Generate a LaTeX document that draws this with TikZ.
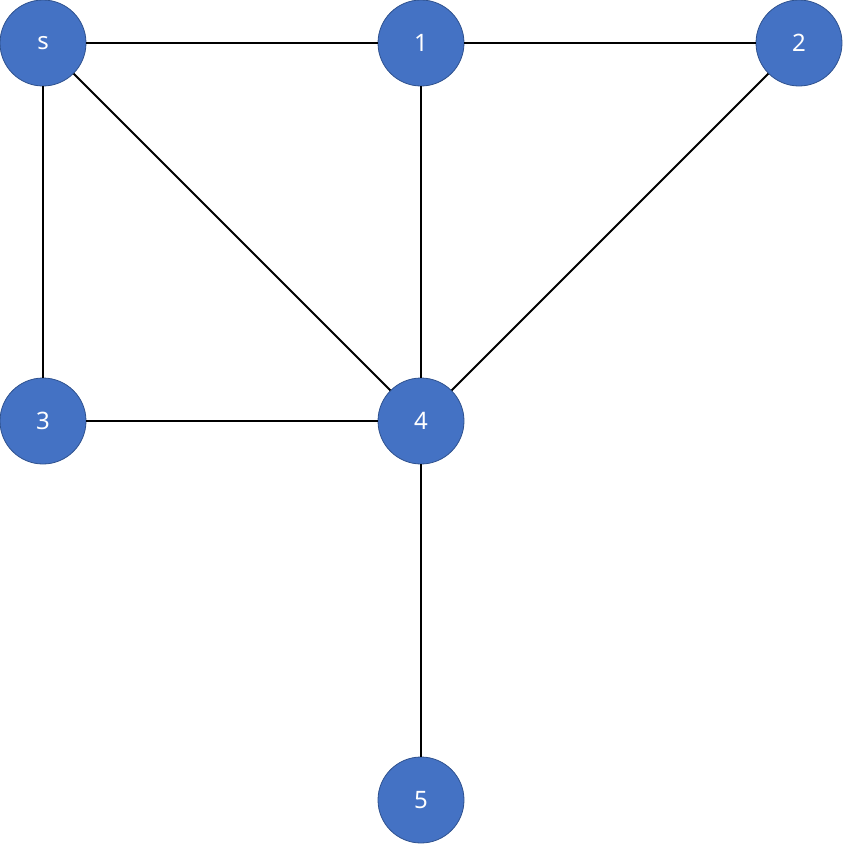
\documentclass[tikz,border=0pt]{standalone}
\usepackage{fontspec}
\setmainfont{Noto Sans}
\definecolor{nodeblue}{HTML}{4472C4}
\definecolor{nodeedge}{HTML}{2F528F}
\begin{document}
\begin{tikzpicture}[x=1pt,y=-1pt,
  v/.style={circle,fill=nodeblue,draw=nodeedge,line width=0.8pt,minimum size=86pt,inner sep=0pt,text=white,font=\fontsize{24}{28}\selectfont},
  e/.style={line width=2pt,black}]
\useasboundingbox (0,0) rectangle (843,844);
\node[v] (s) at (43,43) {s};
\node[v] (n1) at (421,43) {1};
\node[v] (n2) at (799,43) {2};
\node[v] (n3) at (43,421) {3};
\node[v] (n4) at (421,421) {4};
\node[v] (n5) at (421,800) {5};
\draw[e] (s) -- (n1);
\draw[e] (n1) -- (n2);
\draw[e] (s) -- (n3);
\draw[e] (s) -- (n4);
\draw[e] (n1) -- (n4);
\draw[e] (n2) -- (n4);
\draw[e] (n3) -- (n4);
\draw[e] (n4) -- (n5);
\end{tikzpicture}
\end{document}
